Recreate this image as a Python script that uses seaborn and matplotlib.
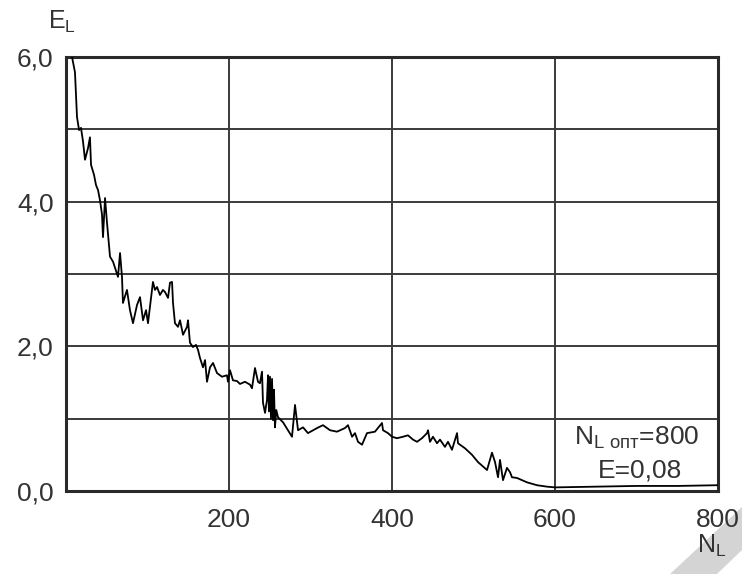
import numpy as np
import pandas as pd
import matplotlib
matplotlib.use("Agg")
import matplotlib.pyplot as plt
from matplotlib.patches import Polygon
import seaborn as sns

# Error E_L as a function of the number of training points N_L
n_l = [7.4, 11.0, 13.5, 16.0, 18.4, 20.9, 23.3, 27.0, 29.4, 30.7, 34.4, 36.8, 39.3, 41.7,
       44.2, 45.4, 47.9, 50.3, 54.0, 57.7, 63.8, 66.3, 68.7, 69.9, 74.8, 78.5, 82.2, 87.1,
       90.8, 94.5, 98.2, 100.6, 103.0, 106.7, 109.2, 111.7, 115.3, 119.0, 121.5, 125.2,
       127.6, 130.1, 131.3, 133.7, 137.4, 139.9, 143.6, 148.5, 149.7, 152.1, 155.8, 159.5,
       162.0, 164.4, 168.1, 170.6, 173.0, 176.7, 180.4, 185.3, 191.4, 197.5, 198.8, 201.2,
       204.9, 209.8, 213.5, 219.6, 225.8, 228.2, 231.9, 235.6, 238.0, 240.5, 241.7, 244.2,
       246.6, 247.9, 249.0, 250.3, 251.5, 252.8, 254.0, 255.2, 256.4, 258.0, 260.1, 266.3,
       272.4, 277.3, 281.0, 284.7, 290.8,
       296.9, 308.0, 315.3, 324.0, 332.5, 342.3, 346.0, 351.0, 354.6, 358.3, 363.2, 369.3,
       379.1, 387.7, 389.0, 395.1, 400.0, 406.1, 413.5, 419.6, 425.8, 430.7, 436.8, 443.0,
       444.2, 446.6, 450.3, 455.2, 458.9, 465.0, 468.7, 473.6, 479.8, 481.0, 489.6, 498.2,
       505.5, 516.6, 522.7, 526.4, 530.1, 532.5, 536.2, 541.1, 544.8, 547.2, 553.4, 565.6,
       577.9, 590.2, 600.0, 650.0, 700.0, 750.0, 800.0]
e_l = [6.00, 5.79, 5.17, 4.99, 5.02, 4.83, 4.58, 4.74, 4.89, 4.51, 4.37, 4.23, 4.16, 4.02,
       3.82, 3.51, 4.05, 3.71, 3.24, 3.17, 2.96, 3.29, 2.96, 2.60, 2.78, 2.50, 2.32, 2.57,
       2.68, 2.36, 2.50, 2.32, 2.54, 2.89, 2.78, 2.82, 2.71, 2.78, 2.75, 2.67,
       2.88, 2.89, 2.60, 2.32, 2.27, 2.36, 2.16, 2.27, 2.36, 2.05, 1.99, 2.02,
       1.95, 1.84, 1.71, 1.81, 1.51, 1.71, 1.77, 1.63, 1.58, 1.60, 1.51, 1.67,
       1.53, 1.52, 1.48, 1.51, 1.47, 1.42, 1.70, 1.51, 1.49, 1.65, 1.22, 1.08,
       1.26, 1.60, 1.10, 1.58, 1.00, 1.55, 0.98, 1.40, 0.88, 1.12, 1.02, 0.95,
       0.84, 0.75, 1.19, 0.84, 0.88,
       0.80, 0.87, 0.91, 0.84, 0.82, 0.87, 0.91, 0.75, 0.80, 0.68, 0.64, 0.80,
       0.82, 0.94, 0.84, 0.80, 0.75, 0.73, 0.75, 0.77, 0.71, 0.68, 0.73, 0.80,
       0.84, 0.68, 0.75, 0.66, 0.71, 0.61, 0.68, 0.57, 0.80, 0.66, 0.59, 0.50,
       0.40, 0.29, 0.53, 0.40, 0.19, 0.43, 0.15, 0.32, 0.26, 0.19, 0.18, 0.12,
       0.08, 0.06, 0.05, 0.06, 0.07, 0.07, 0.08]

x_ticks = [0, 200, 400, 600, 800]
x_tick_labels = ["", "200", "400", "600", "800"]
y_ticks = [0, 1, 2, 3, 4, 5, 6]
y_tick_labels = ["0,0", "", "2,0", "", "4,0", "", "6,0"]
n_opt = 800
e_opt = "0,08"

sns.set_style("white")
plt.rcParams["font.family"] = ["Liberation Sans", "DejaVu Sans"]
plt.rcParams["mathtext.default"] = "regular"

df = pd.DataFrame({"N_L": n_l, "E_L": e_l})

fig = plt.figure(figsize=(7.42, 5.74), dpi=100)
ax = fig.add_axes([66 / 742, 1 - 491 / 574, (718 - 66) / 742, (491 - 57) / 574])

sns.lineplot(data=df, x="N_L", y="E_L", ax=ax, color="black", linewidth=1.3,
             sort=False, estimator=None, zorder=3)

ax.set_xlim(0, 800)
ax.set_ylim(0, 6)
ax.set_xticks(x_ticks)
ax.set_xticklabels(x_tick_labels)
ax.set_yticks(y_ticks)
ax.set_yticklabels(y_tick_labels)
ax.set_xlabel("")
ax.set_ylabel("")
ax.grid(True, color="#3a3a3a", linewidth=1.4)
ax.set_axisbelow(True)
for s in ax.spines.values():
    s.set_visible(True)
    s.set_color("#2a2a2a")
    s.set_linewidth(2.2)
ax.tick_params(axis="both", which="major", labelsize=19, colors="#2a2a2a",
               length=4, width=1.8, direction="out", labelcolor="#333333")
ax.tick_params(axis="x", pad=8)
ax.tick_params(axis="y", pad=5)

ax.text(700, 0.74, r"$\mathregular{N_{L\ опт}}$=" + str(n_opt), fontsize=19,
        color="#333333", ha="center", va="center")
ax.text(704, 0.29, "E=" + e_opt, fontsize=19, color="#333333",
        ha="center", va="center")

fig.text(62 / 742, 1 - 22 / 574, r"$\mathregular{E_L}$", fontsize=18, color="#333333",
         ha="center", va="center")
fig.text(712 / 742, 1 - 546 / 574, r"$\mathregular{N_L}$", fontsize=18, color="#333333",
         ha="center", va="center")

# light diagonal band in the lower right corner, kept behind the text
band = Polygon([(670 / 742, 0), (1.0, 1 - 507 / 574), (1.0, 1 - 550 / 574), (717 / 742, 0)],
               closed=True, transform=fig.transFigure, facecolor="#d4d4d4",
               edgecolor="none", zorder=-1)
fig.patches.append(band)

fig.savefig("out.png", dpi=100)
